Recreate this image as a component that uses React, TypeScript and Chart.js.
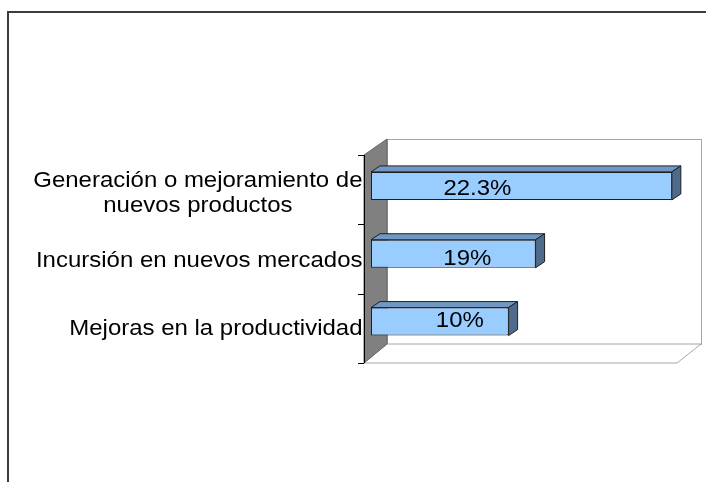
import { useEffect, useRef } from "react";
import { Chart, registerables } from "chart.js";

Chart.register(...registerables);

// ---- data ----
const categories: string[][] = [
  ["Generación o mejoramiento de", "nuevos productos"],
  ["Incursión en nuevos mercados"],
  ["Mejoras en la productividad"],
];
const values: number[] = [22.3, 12.2, 10.2];
const valueLabels: string[] = ["22.3%", "19%", "10%"];
const xMax = 23.35;

// ---- style ----
const FONT = '22px "Liberation Sans", Arial, sans-serif';
const SX = 1.09;
const DX = 9;
const DY = -6;
const LABEL_DX = [-44, 14, 20];
const LABEL_DY = [9.5, 11, 5];
const LABEL_RIGHT = 362.5;

function drawText(ctx: CanvasRenderingContext2D, text: string, x: number, y: number, align: CanvasTextAlign) {
  ctx.save();
  ctx.translate(x, y);
  ctx.scale(SX, 1);
  ctx.textAlign = align;
  ctx.textBaseline = "alphabetic";
  ctx.fillText(text, 0, 0);
  ctx.restore();
}

const excel3d = {
  id: "excel3d",
  beforeDatasetsDraw(chart: any) {
    const { ctx, chartArea: ca } = chart;
    const fl = ca.left - 7, bl = ca.left + 16;
    const ft = ca.top + 3, bt = ca.top - 13;
    const fb = ca.bottom + 7.5, bb = ca.bottom - 11.5;
    const fr = ca.right - 9, br = ca.right + 15;
    ctx.save();
    ctx.lineWidth = 1;
    // back wall
    ctx.fillStyle = "#ffffff";
    ctx.strokeStyle = "#a6a6a6";
    ctx.fillRect(bl, bt, br - bl, bb - bt);
    ctx.strokeRect(bl + 0.5, bt + 0.5, br - bl, bb - bt);
    // floor
    ctx.beginPath();
    ctx.moveTo(fl, fb);
    ctx.lineTo(bl, bb);
    ctx.lineTo(br, bb);
    ctx.lineTo(fr, fb);
    ctx.closePath();
    ctx.fill();
    ctx.stroke();
    // left wall
    ctx.beginPath();
    ctx.moveTo(fl, ft);
    ctx.lineTo(bl, bt);
    ctx.lineTo(bl, bb);
    ctx.lineTo(fl, fb);
    ctx.closePath();
    ctx.fillStyle = "#808080";
    ctx.fill();
    ctx.strokeStyle = "#666666";
    ctx.stroke();
    // front edge of left wall
    ctx.strokeStyle = "#000000";
    ctx.beginPath();
    ctx.moveTo(fl + 0.5, ft);
    ctx.lineTo(fl + 0.5, fb);
    ctx.stroke();
    // ticks
    for (let i = 0; i <= categories.length; i++) {
      const y = Math.round(ft + (i * (fb - ft)) / categories.length) + 0.5;
      ctx.beginPath();
      ctx.moveTo(fl - 6, y);
      ctx.lineTo(fl, y);
      ctx.stroke();
    }
    ctx.restore();
  },
  afterDatasetsDraw(chart: any) {
    const { ctx } = chart;
    const meta = chart.getDatasetMeta(0);
    ctx.save();
    ctx.lineWidth = 1;
    ctx.strokeStyle = "#1f1f1f";
    meta.data.forEach((bar: any, i: number) => {
      const { x, y, base, height } = bar.getProps(["x", "y", "base", "height"], true);
      const top = y - height / 2;
      const bot = y + height / 2;
      // top face
      ctx.beginPath();
      ctx.moveTo(base, top);
      ctx.lineTo(base + DX, top + DY);
      ctx.lineTo(x + DX, top + DY);
      ctx.lineTo(x, top);
      ctx.closePath();
      ctx.fillStyle = "#7197c4";
      ctx.fill();
      ctx.stroke();
      // side face
      ctx.beginPath();
      ctx.moveTo(x, top);
      ctx.lineTo(x + DX, top + DY);
      ctx.lineTo(x + DX, bot + DY);
      ctx.lineTo(x, bot);
      ctx.closePath();
      ctx.fillStyle = "#4f6b8c";
      ctx.fill();
      ctx.stroke();
      // value label
      ctx.fillStyle = "#000000";
      ctx.font = FONT;
      drawText(ctx, valueLabels[i], (base + x) / 2 + LABEL_DX[i], y + LABEL_DY[i], "center");
    });
    // category labels
    const yScale = chart.scales.y;
    ctx.fillStyle = "#000000";
    ctx.font = FONT;
    categories.forEach((lines, i) => {
      const yc = yScale.getPixelForValue(i);
      if (lines.length === 1) {
        drawText(ctx, lines[0], LABEL_RIGHT, yc + 13.5, "right");
      } else {
        const w1 = ctx.measureText(lines[0]).width * SX;
        const cx = LABEL_RIGHT - w1 / 2;
        drawText(ctx, lines[0], LABEL_RIGHT, yc + 1.25, "right");
        for (let k = 1; k < lines.length; k++) {
          drawText(ctx, lines[k], cx, yc + 1.25 + 25 * k, "center");
        }
      }
    });
    // outer frame
    ctx.fillStyle = "#3c3c3c";
    ctx.fillRect(7, 11, 2, chart.height - 11);
    ctx.fillRect(7, 11, chart.width - 7, 2);
    ctx.restore();
  },
};

export default function App() {
  const ref = useRef<HTMLCanvasElement | null>(null);
  useEffect(() => {
    if (!ref.current) return;
    const chart = new Chart(ref.current, {
      type: "bar",
      data: {
        labels: categories.map((c) => c.join(" ")),
        datasets: [
          {
            data: values,
            backgroundColor: "#99ccff",
            borderColor: "#1f1f1f",
            borderWidth: 1,
            borderSkipped: false,
            barPercentage: 0.413,
            categoryPercentage: 1,
          },
        ],
      },
      options: {
        indexAxis: "y",
        responsive: false,
        animation: false,
        devicePixelRatio: 1,
        layout: { padding: { left: 371, right: 20, top: 152, bottom: 126.5 } },
        scales: {
          x: { display: false, min: 0, max: xMax },
          y: { display: false },
        },
        plugins: {
          legend: { display: false },
          tooltip: { enabled: false },
        },
      },
      plugins: [excel3d],
    } as any);
    return () => chart.destroy();
  }, []);
  return (
    <div style={{ position: "fixed", left: 0, top: 0, width: 706, height: 482, background: "#ffffff" }}>
      <canvas ref={ref} width={706} height={482} style={{ display: "block" }} />
    </div>
  );
}
